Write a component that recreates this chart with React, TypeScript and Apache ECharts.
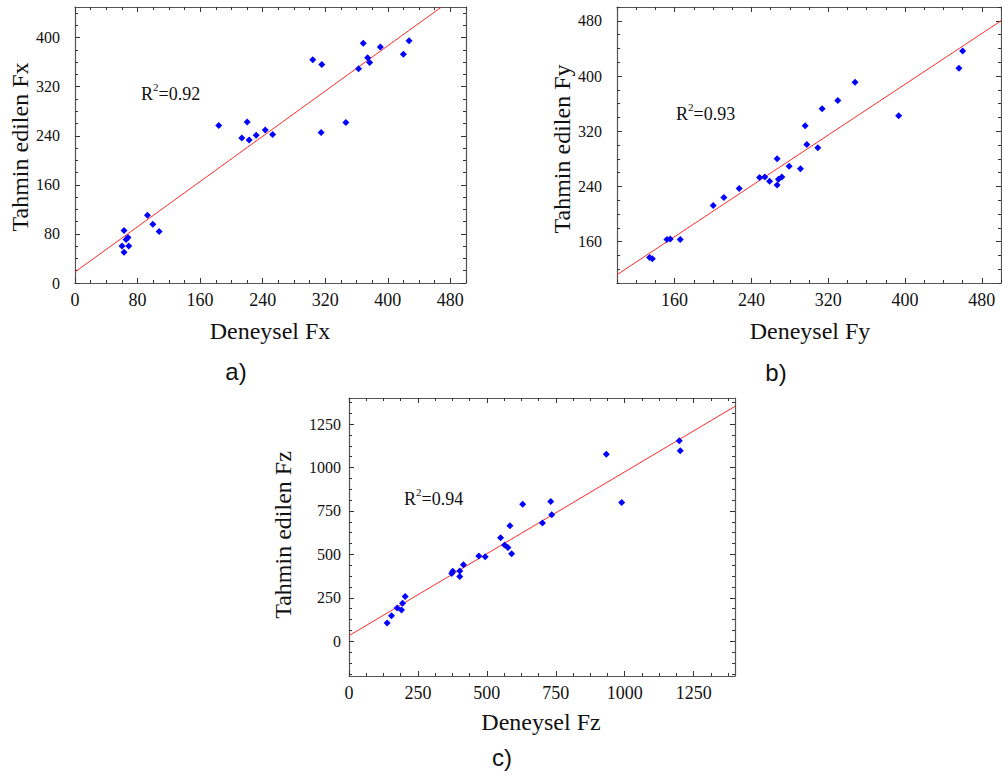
import React, { useEffect, useRef } from 'react';
import * as echarts from 'echarts';

const SERIF = 'Liberation Serif';
const SANS = 'Liberation Sans';

// ---- Panel a: Fx ----
const fxExperimental = [62.7, 60.1, 62.7, 65.3, 67.8, 68.7, 92.6, 99.5, 107.6, 183.8, 213.3, 220.2, 222.7, 231.7, 243.3, 252.7, 304, 315.6, 314.7, 346.4, 362.6, 368.6, 374.2, 376.8, 390.5, 419.9, 427.2];
const fxPredicted = [85.6, 60.5, 50.1, 70.8, 74.1, 60.5, 110.6, 95.9, 83.9, 256.7, 236.5, 262.7, 233.2, 240.9, 249.6, 242, 364, 356.4, 245.2, 261.6, 349.3, 390.7, 367.3, 359.7, 384.7, 372.8, 395.1];
const fxFit = [[0, 18], [468.6, 450]];
const fxTicksX = [0, 80, 160, 240, 320, 400, 480];
const fxTicksY = [0, 80, 160, 240, 320, 400];

// ---- Panel b: Fy ----
const fyExperimental = [134, 136.8, 152, 155.5, 165.9, 200.2, 211.3, 227.3, 248.5, 254, 258.9, 266.8, 266.8, 268.2, 271.7, 279.3, 291.1, 296, 297.7, 309.2, 313.7, 330, 348, 393.4, 456.2, 460];
const fyPredicted = [136.8, 135.3, 162.9, 163.9, 162.9, 212.2, 223.8, 236.9, 252.9, 253.8, 247.6, 280, 242.2, 250.5, 253.8, 269.3, 265.5, 327.9, 300.8, 295.9, 352.5, 364.6, 390.8, 342.4, 411.1, 436.2];
const fyFit = [[100, 112], [500, 480]];
const fyTicksX = [160, 240, 320, 400, 480];
const fyTicksY = [160, 240, 320, 400, 480];

// ---- Panel c: Fz ----
const fzExperimental = [138.3, 154.1, 174.8, 190.5, 194.2, 203.9, 372.6, 376.2, 401.7, 401.7, 415, 470.9, 493.9, 549.8, 564.3, 576.5, 583.7, 589.8, 629.9, 701.5, 731.8, 735.4, 933.3, 989.1, 1197.8, 1201.5];
const fzPredicted = [105, 147, 191, 180, 218, 258, 390, 403, 405, 373, 440, 491, 487, 596, 554, 539, 665, 503, 789, 680, 805, 728, 1076, 799, 1154, 1097];
const fzFit = [[0, 32], [1400, 1352]];
const fzTicksX = [0, 250, 500, 750, 1000, 1250];
const fzTicksY = [0, 250, 500, 750, 1000, 1250];

const r2Labels = ['0.92', '0.93', '0.94'];

function minorValues(min: number, max: number, step: number, majorStep: number) {
  const out: number[] = [];
  const start = Math.ceil(min / step - 1e-9) * step;
  for (let v = start; v <= max + 1e-9; v += step) {
    const r = Math.abs(v / majorStep - Math.round(v / majorStep));
    if (r > 1e-6) out.push(v);
  }
  return out;
}

type Panel = {
  grid: { left: number; top: number; width: number; height: number };
  xMin: number; xMax: number; yMin: number; yMax: number;
  xTicks: number[]; yTicks: number[];
  xMajor: number; yMajor: number;
  yLabelMargin: number;
  exp: number[]; pred: number[]; fit: number[][];
};

const panels: Panel[] = [
  {
    grid: { left: 75, top: 7, width: 391, height: 276 },
    xMin: 0, xMax: 500, yMin: 0, yMax: 450,
    xTicks: fxTicksX, yTicks: fxTicksY, xMajor: 80, yMajor: 80,
    yLabelMargin: 15,
    exp: fxExperimental, pred: fxPredicted, fit: fxFit,
  },
  {
    grid: { left: 617, top: 7, width: 384, height: 276 },
    xMin: 100, xMax: 500, yMin: 100, yMax: 500,
    xTicks: fyTicksX, yTicks: fyTicksY, xMajor: 80, yMajor: 80,
    yLabelMargin: 15,
    exp: fyExperimental, pred: fyPredicted, fit: fyFit,
  },
  {
    grid: { left: 349, top: 398, width: 386, height: 278 },
    xMin: 0, xMax: 1400, yMin: -200, yMax: 1400,
    xTicks: fzTicksX, yTicks: fzTicksY, xMajor: 250, yMajor: 250,
    yLabelMargin: 8,
    exp: fzExperimental, pred: fzPredicted, fit: fzFit,
  },
];

export default function App() {
  const ref = useRef<HTMLDivElement>(null);
  useEffect(() => {
    document.body.style.margin = '0';
    const chart = echarts.init(ref.current!, null, { renderer: 'svg' });

    const grids: any[] = [];
    const xAxes: any[] = [];
    const yAxes: any[] = [];
    const series: any[] = [];
    const fmt = (v: number) => String(v);

    panels.forEach((p, i) => {
      grids.push({ ...p.grid, containLabel: false, show: false });
      const frame = { show: true, onZero: false, lineStyle: { color: '#555', width: 1.2 } };
      const tickStyle = { color: '#333', width: 1 };
      const xMinor = minorValues(p.xMin, p.xMax, p.xMajor / 4, p.xMajor);
      const yMinor = minorValues(p.yMin, p.yMax, p.yMajor / 4, p.yMajor);
      const baseX = { type: 'value', gridIndex: i, min: p.xMin, max: p.xMax, splitLine: { show: false } };
      const baseY = { type: 'value', gridIndex: i, min: p.yMin, max: p.yMax, splitLine: { show: false } };
      xAxes.push({
        ...baseX, position: 'bottom', axisLine: frame,
        axisTick: { show: true, inside: true, length: 5, customValues: p.xTicks, lineStyle: tickStyle },
        axisLabel: { show: true, customValues: p.xTicks, formatter: fmt, margin: 8, fontFamily: SERIF, fontSize: 18, color: '#111' },
      });
      xAxes.push({
        ...baseX, position: 'top', axisLine: frame,
        axisTick: { show: true, inside: true, length: 5, customValues: p.xTicks, lineStyle: tickStyle },
        axisLabel: { show: false },
      });
      xAxes.push({
        ...baseX, position: 'bottom', axisLine: { show: false, onZero: false },
        axisTick: { show: true, inside: true, length: 3, customValues: xMinor, lineStyle: tickStyle },
        axisLabel: { show: false },
      });
      xAxes.push({
        ...baseX, position: 'top', axisLine: { show: false, onZero: false },
        axisTick: { show: true, inside: true, length: 3, customValues: xMinor, lineStyle: tickStyle },
        axisLabel: { show: false },
      });
      yAxes.push({
        ...baseY, position: 'left', axisLine: frame,
        axisTick: { show: true, inside: true, length: 5, customValues: p.yTicks, lineStyle: tickStyle },
        axisLabel: { show: true, customValues: p.yTicks, formatter: fmt, margin: p.yLabelMargin, fontFamily: SERIF, fontSize: 16, color: '#111' },
      });
      yAxes.push({
        ...baseY, position: 'right', axisLine: frame,
        axisTick: { show: true, inside: true, length: 5, customValues: p.yTicks, lineStyle: tickStyle },
        axisLabel: { show: false },
      });
      yAxes.push({
        ...baseY, position: 'left', axisLine: { show: false, onZero: false },
        axisTick: { show: true, inside: true, length: 3, customValues: yMinor, lineStyle: tickStyle },
        axisLabel: { show: false },
      });
      yAxes.push({
        ...baseY, position: 'right', axisLine: { show: false, onZero: false },
        axisTick: { show: true, inside: true, length: 3, customValues: yMinor, lineStyle: tickStyle },
        axisLabel: { show: false },
      });

      series.push({
        type: 'line', xAxisIndex: i * 4, yAxisIndex: i * 4,
        data: p.fit, symbol: 'none', clip: true, z: 1,
        lineStyle: { color: '#ff2a2a', width: 1 },
      });
      series.push({
        type: 'scatter', xAxisIndex: i * 4, yAxisIndex: i * 4,
        data: p.exp.map((x, k) => [x, p.pred[k]]),
        symbol: 'diamond', symbolSize: 7, z: 3,
        itemStyle: { color: '#0000ff', opacity: 1 },
      });
    });

    const titleFont = { fontFamily: SERIF, fontSize: 24, fill: '#111' };
    const textEl = (x: number, y: number, text: string, extra: any = {}, rot = 0) => ({
      type: 'text', x, y, rotation: rot,
      style: { text, align: 'center', verticalAlign: 'middle', ...titleFont, ...extra },
    });
    const r2El = (x: number, y: number, val: string) => ({
      type: 'text', x, y,
      style: {
        text: '{a|R}{s|2}{a|=' + val + '}',
        align: 'left', verticalAlign: 'middle',
        rich: {
          a: { fontFamily: SERIF, fontSize: 18, fill: '#111', lineHeight: 22, verticalAlign: 'bottom' },
          s: { fontFamily: SERIF, fontSize: 11, fill: '#111', lineHeight: 22, verticalAlign: 'top' },
        },
      },
    });

    const graphic = [
      textEl(20, 147, 'Tahmin edilen Fx', {}, Math.PI / 2),
      textEl(270, 331, 'Deneysel Fx'),
      textEl(562, 149, 'Tahmin edilen Fy', {}, Math.PI / 2),
      textEl(810, 331, 'Deneysel Fy'),
      textEl(283, 535, 'Tahmin edilen Fz', {}, Math.PI / 2),
      textEl(541, 722, 'Deneysel Fz'),
      textEl(236, 371, 'a)', { fontFamily: SANS, fontSize: 24 }),
      textEl(776, 372, 'b)', { fontFamily: SANS, fontSize: 24 }),
      textEl(502, 757, 'c)', { fontFamily: SANS, fontSize: 24 }),
      r2El(141, 92, r2Labels[0]),
      r2El(676, 112, r2Labels[1]),
      r2El(404, 497, r2Labels[2]),
    ];

    chart.setOption({
      animation: false,
      backgroundColor: '#fff',
      grid: grids,
      xAxis: xAxes,
      yAxis: yAxes,
      series,
      graphic,
    });
    return () => chart.dispose();
  }, []);
  return <div ref={ref} style={{ width: 1002, height: 781 }} />;
}
